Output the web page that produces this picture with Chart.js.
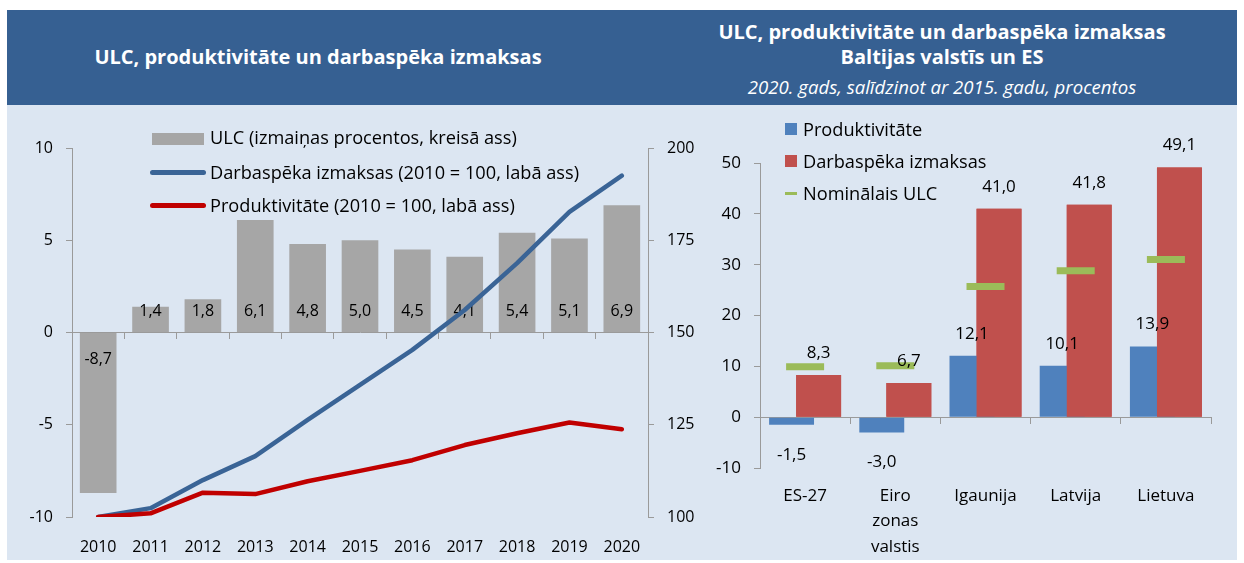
<!DOCTYPE html>
<html lang="lv">
<head>
<meta charset="utf-8">
<title>ULC, produktivitāte un darbaspēka izmaksas</title>
<script src="https://cdn.jsdelivr.net/npm/chart.js@4.4.1/dist/chart.umd.min.js"></script>
<style>
  body { margin: 0; background: #fff; font-family: 'Open Sans', Lato, sans-serif; }
  .frame { position: relative; width: 1244px; height: 563px; overflow: hidden; }
  .head { position: absolute; left: 7px; top: 10px; width: 1230px; height: 95px; background: #366092; }
  .panel { position: absolute; left: 7px; top: 105px; width: 1230px; height: 455px; background: #dce6f2; }
  .title { position: absolute; color: #fff; text-align: center; font-weight: bold; font-size: 20px; line-height: 24px; white-space: nowrap; }
  .title.sub { font-weight: normal; font-style: italic; font-size: 18.6px; }
  canvas { position: absolute; }
  .legend { position: absolute; left: 0; top: 0; }
  .legend .txt { position: absolute; font-size: 18.2px; line-height: 20px; color: #000; white-space: nowrap; }
  .legend .sw { position: absolute; }
</style>
</head>
<body>
<div class="frame">
  <div class="head"></div>
  <div class="panel"></div>
  <div class="title" style="left:7px;width:622px;top:45px">ULC, produktivitāte un darbaspēka izmaksas</div>
  <div class="title" style="left:700px;width:484px;top:20px">ULC, produktivitāte un darbaspēka izmaksas</div>
  <div class="title" style="left:700px;width:484px;top:45px">Baltijas valstīs un ES</div>
  <div class="title sub" style="left:700px;width:484px;top:75px">2020. gads, salīdzinot ar 2015. gadu, procentos</div>

  <canvas id="leftChart" width="690" height="455" style="left:7px;top:105px"></canvas>
  <canvas id="rightChart" width="537" height="455" style="left:700px;top:105px"></canvas>
  <div class="legend" id="leftLegend"></div>
  <div class="legend" id="rightLegend"></div>
</div>

<script>
// ULC dynamics 2010-2020
const years = ['2010', '2011', '2012', '2013', '2014', '2015', '2016', '2017', '2018', '2019', '2020'];
const ulcChange = [-8.7, 1.4, 1.8, 6.1, 4.8, 5.0, 4.5, 4.1, 5.4, 5.1, 6.9];
const labourCostIndex = [100, 102.4, 110.0, 116.5, 126.3, 135.8, 145.3, 156.1, 168.8, 182.7, 192.5];
const productivityIndex = [100, 101.0, 106.6, 106.2, 109.7, 112.5, 115.4, 119.5, 122.7, 125.6, 123.8];
const leftLabels = [
  'ULC (izmaiņas procentos, kreisā ass)',
  'Darbaspēka izmaksas (2010 = 100, labā ass)',
  'Produktivitāte (2010 = 100, labā ass)'
];

// 2020 vs 2015, per country
const countries = ['ES-27', ['Eiro', 'zonas', 'valstis'], 'Igaunija', 'Latvija', 'Lietuva'];
const productivityChange = [-1.5, -3.0, 12.1, 10.1, 13.9];
const labourCostChange = [8.3, 6.7, 41.0, 41.8, 49.1];
const nominalUlc = [9.9, 10.1, 25.7, 28.8, 31.0];
const rightLabels = ['Produktivitāte', 'Darbaspēka izmaksas', 'Nominālais ULC'];

const AXIS = '#9a9a9a';
const TEXT = '#000';
const FONT = "'Open Sans'";

const fmt = v => v.toFixed(1).replace('.', ',');

function valueAxis(position, min, max, step, size, width) {
  return {
    position, min, max,
    ticks: { stepSize: step, color: TEXT, font: { family: FONT, size }, padding: 13 },
    grid: { drawOnChartArea: false, tickLength: 6, color: AXIS },
    border: { color: AXIS },
    afterFit: s => { s.width = width; }
  };
}

// zero line with tick marks between categories
function zeroAxis() {
  return {
    type: 'category', axis: 'x', position: { y: 0 }, offset: true,
    ticks: { display: false },
    grid: { offset: true, drawOnChartArea: false, tickLength: 6, color: AXIS },
    border: { color: AXIS }
  };
}

const ulcLabels = {
  id: 'ulcLabels',
  afterDatasetDraw(chart, args) {
    if (args.index !== 0) return;
    const ctx = chart.ctx;
    const zero = chart.scales.y.getPixelForValue(0);
    ctx.save();
    ctx.font = '16px ' + FONT;
    ctx.fillStyle = TEXT;
    ctx.textAlign = 'center';
    ctx.textBaseline = 'middle';
    args.meta.data.forEach((bar, i) => {
      const v = ulcChange[i];
      ctx.fillText(fmt(v), bar.x, v < 0 ? zero + 27 : zero - 21);
    });
    ctx.restore();
  }
};

new Chart(document.getElementById('leftChart'), {
  type: 'bar',
  data: {
    labels: years,
    datasets: [
      {
        label: leftLabels[0], data: ulcChange, backgroundColor: '#a6a6a6',
        yAxisID: 'y', order: 2, barPercentage: 0.7, categoryPercentage: 1
      },
      {
        type: 'line', label: leftLabels[1], data: labourCostIndex, yAxisID: 'y1', order: 1,
        borderColor: '#3a6496', borderWidth: 4.5, pointRadius: 0, tension: 0,
        borderCapStyle: 'round', borderJoinStyle: 'round'
      },
      {
        type: 'line', label: leftLabels[2], data: productivityIndex, yAxisID: 'y1', order: 0,
        borderColor: '#c00000', borderWidth: 4.5, pointRadius: 0, tension: 0,
        borderCapStyle: 'round', borderJoinStyle: 'round'
      }
    ]
  },
  options: {
    responsive: false,
    animation: false,
    events: [],
    layout: { padding: { top: 43 } },
    plugins: { legend: { display: false }, tooltip: { enabled: false } },
    scales: {
      x: {
        ticks: { color: TEXT, font: { family: FONT, size: 16 }, padding: 21, maxRotation: 0 },
        grid: { display: false, drawTicks: false },
        border: { display: false },
        afterFit: s => { s.height = 43; }
      },
      xZero: zeroAxis(),
      y: valueAxis('left', -10, 10, 5, 16, 65),
      y1: valueAxis('right', 100, 200, 25, 16, 49)
    }
  },
  plugins: [ulcLabels]
});
</script>
<script>
// right chart: red bars sit over the blue ones, labels on top of everything
const countryLabels = {
  id: 'countryLabels',
  afterDatasetDraw(chart, args) {
    if (args.index === 0) chart.getDatasetMeta(1).controller.draw();
  },
  afterDatasetsDraw(chart) {
    const ctx = chart.ctx;
    ctx.save();
    ctx.font = '17px ' + FONT;
    ctx.fillStyle = TEXT;
    ctx.textAlign = 'center';
    ctx.textBaseline = 'middle';
    chart.getDatasetMeta(0).data.forEach((bar, i) => {
      const v = productivityChange[i];
      ctx.fillText(fmt(v), bar.x, v < 0 ? bar.y + 30 : bar.y - 22);
    });
    chart.getDatasetMeta(1).data.forEach((bar, i) => {
      ctx.fillText(fmt(labourCostChange[i]), bar.x, bar.y - 22);
    });
    ctx.restore();
  }
};

new Chart(document.getElementById('rightChart'), {
  type: 'bar',
  data: {
    labels: countries,
    datasets: [
      {
        label: rightLabels[0], data: productivityChange, backgroundColor: '#4f81bd',
        categoryPercentage: 0.6, barPercentage: 1.66, order: 1
      },
      {
        label: rightLabels[1], data: labourCostChange, backgroundColor: '#c0504d',
        categoryPercentage: 0.6, barPercentage: 1.66, order: 1
      },
      {
        type: 'line', label: rightLabels[2], data: nominalUlc, order: 0,
        showLine: false, pointStyle: 'line', pointRadius: 19, pointBorderWidth: 7,
        pointBorderColor: '#9bbb59', pointBackgroundColor: '#9bbb59'
      }
    ]
  },
  options: {
    responsive: false,
    animation: false,
    events: [],
    layout: { padding: { top: 58, right: 25 } },
    plugins: { legend: { display: false }, tooltip: { enabled: false } },
    scales: {
      x: {
        ticks: { color: TEXT, font: { family: FONT, size: 17, lineHeight: 1.5 }, padding: 15, maxRotation: 0 },
        grid: { display: false, drawTicks: false },
        border: { display: false },
        afterFit: s => { s.height = 92; }
      },
      xZero: zeroAxis(),
      y: valueAxis('left', -10, 50, 10, 17, 60)
    }
  },
  plugins: [countryLabels]
});

// html legends
function addLegend(el, rows) {
  rows.forEach(r => {
    const sw = document.createElement('div');
    sw.className = 'sw';
    Object.assign(sw.style, r.swatch);
    el.appendChild(sw);
    const t = document.createElement('div');
    t.className = 'txt';
    t.textContent = r.text;
    t.style.left = r.x + 'px';
    t.style.top = (r.y - 10) + 'px';
    el.appendChild(t);
  });
}

addLegend(document.getElementById('leftLegend'), [
  { text: leftLabels[0], x: 210, y: 137, swatch: { left: '152px', top: '133px', width: '52px', height: '12px', background: '#a6a6a6' } },
  { text: leftLabels[1], x: 210, y: 172, swatch: { left: '150px', top: '170px', width: '56px', height: '5px', borderRadius: '3px', background: '#3a6496' } },
  { text: leftLabels[2], x: 210, y: 205, swatch: { left: '150px', top: '203px', width: '56px', height: '5px', borderRadius: '3px', background: '#c00000' } }
]);

addLegend(document.getElementById('rightLegend'), [
  { text: rightLabels[0], x: 803, y: 129, swatch: { left: '785px', top: '123px', width: '12px', height: '12px', background: '#4f81bd' } },
  { text: rightLabels[1], x: 803, y: 161, swatch: { left: '785px', top: '155px', width: '12px', height: '12px', background: '#c0504d' } },
  { text: rightLabels[2], x: 803, y: 193, swatch: { left: '785px', top: '192px', width: '12px', height: '3px', background: '#9bbb59' } }
]);
</script>
</body>
</html>
